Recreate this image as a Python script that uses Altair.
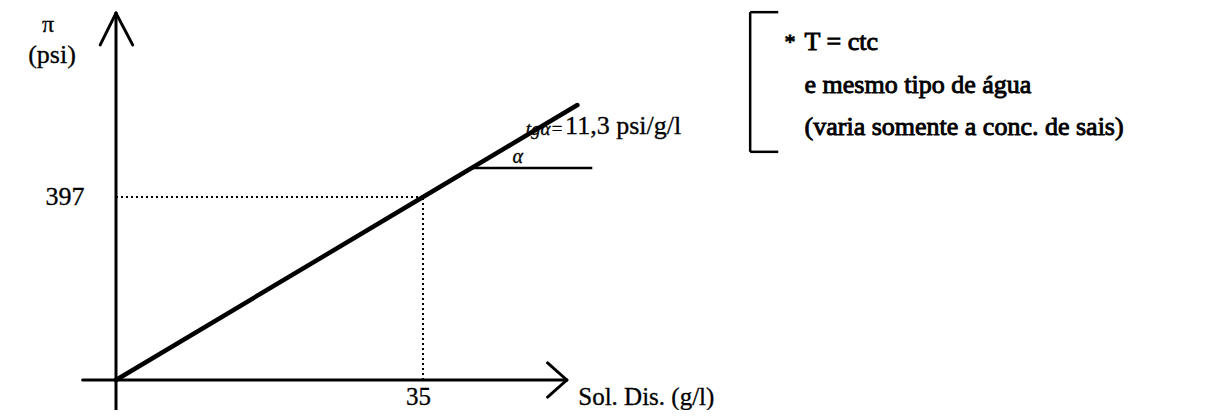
import altair as alt
import pandas as pd

# ---- data ----
sol_dis = [0, 35, 52.6]          # g/l
pressure = [0, 397, 596.6]       # psi
ref_x = 35
ref_y = 397
slope_label = "11,3 psi/g/l"
note_lines = ["T = ctc", "e mesmo tipo de água", "(varia somente a conc. de sais)"]

FONT = "Liberation Serif"
W, H = 1210, 402

xs = alt.Scale(domain=[0, 35], range=[108, 415], nice=False, zero=False)
ys = alt.Scale(domain=[0, 397], range=[372, 189], nice=False, zero=False)
X = lambda f: alt.X(f, type="quantitative", scale=xs, axis=None)
Y = lambda f: alt.Y(f, type="quantitative", scale=ys, axis=None)

line_df = pd.DataFrame({"x": sol_dis, "y": pressure})
main_line = alt.Chart(line_df).mark_line(color="black", strokeWidth=4.5, strokeCap="round").encode(
    x=X("x"), y=Y("y"))

# axes with open arrowheads
axes_df = pd.DataFrame([
    {"x": 0, "y": -72, "x2": 0, "y2": 796},
    {"x": -1.8, "y": 727, "x2": 0, "y2": 796},
    {"x": 1.9, "y": 727, "x2": 0, "y2": 796},
    {"x": -3.8, "y": 0, "x2": 51.4, "y2": 0},
    {"x": 49.2, "y": 37, "x2": 51.4, "y2": 0},
    {"x": 49.2, "y": -37, "x2": 51.4, "y2": 0},
])
axes = alt.Chart(axes_df).mark_rule(color="black", strokeWidth=3, strokeCap="round").encode(
    x=X("x"), y=Y("y"), x2="x2", y2="y2")

# dotted guide lines
guide_df = pd.DataFrame([
    {"x": 0, "y": ref_y, "x2": ref_x, "y2": ref_y},
    {"x": ref_x, "y": 0, "x2": ref_x, "y2": ref_y},
])
guides = alt.Chart(guide_df).mark_rule(color="black", strokeWidth=2, strokeDash=[2, 3]).encode(
    x=X("x"), y=Y("y"), x2="x2", y2="y2")

# slope construction line + bracket
misc_df = pd.DataFrame([
    {"x": 40.5, "y": 460, "x2": 54.3, "y2": 460},
    {"x": 72.3, "y": 798, "x2": 72.3, "y2": 495},
    {"x": 72.3, "y": 798, "x2": 75.5, "y2": 798},
    {"x": 72.3, "y": 495, "x2": 75.5, "y2": 495},
])
misc = alt.Chart(misc_df).mark_rule(color="black", strokeWidth=2.5).encode(
    x=X("x"), y=Y("y"), x2="x2", y2="y2")

def txt(t, x, y, align="left", size=26, bold=False, style="normal"):
    d = pd.DataFrame({"t": [t], "x": [x], "y": [y]})
    kw = dict(stroke="black", strokeWidth=0.9) if bold else dict(stroke="black", strokeWidth=0.3)
    return alt.Chart(d).mark_text(align=align, baseline="middle", font=FONT, fontSize=size,
                                  fontStyle=style, color="black", **kw).encode(
        x=X("x"), y=Y("y"), text="t:N")

texts = [
    txt("π", -7.75, 770, align="center", size=24),
    txt("(psi)", -7.3, 705, align="center", size=26),
    txt(str(ref_y), -3.6, ref_y, align="right", size=26),
    txt(str(ref_x), 34.5, -36, align="center", size=25),
    txt("Sol. Dis. (g/l)", 52.7, -36, size=25),
    txt("α", 45.2, 484, size=20, style="italic"),
    txt("tgα=", 51.0, 545, align="right", size=19, style="italic"),
    txt(slope_label, 51.2, 551, size=26),
    txt("*", 76.2, 733, size=22, bold=True),
    txt(note_lines[0], 78.5, 733, size=26, bold=True),
    txt(note_lines[1], 78.5, 640, size=26, bold=True),
    txt(note_lines[2], 78.5, 549, size=26, bold=True),
]

chart = alt.layer(guides, misc, axes, main_line, *texts).properties(
    width=W, height=H, autosize=alt.AutoSizeParams(type="none"), padding=0
).configure(background="white").configure_view(stroke=None)

chart.save("out.html", embed_options={"renderer": "svg", "actions": False})
